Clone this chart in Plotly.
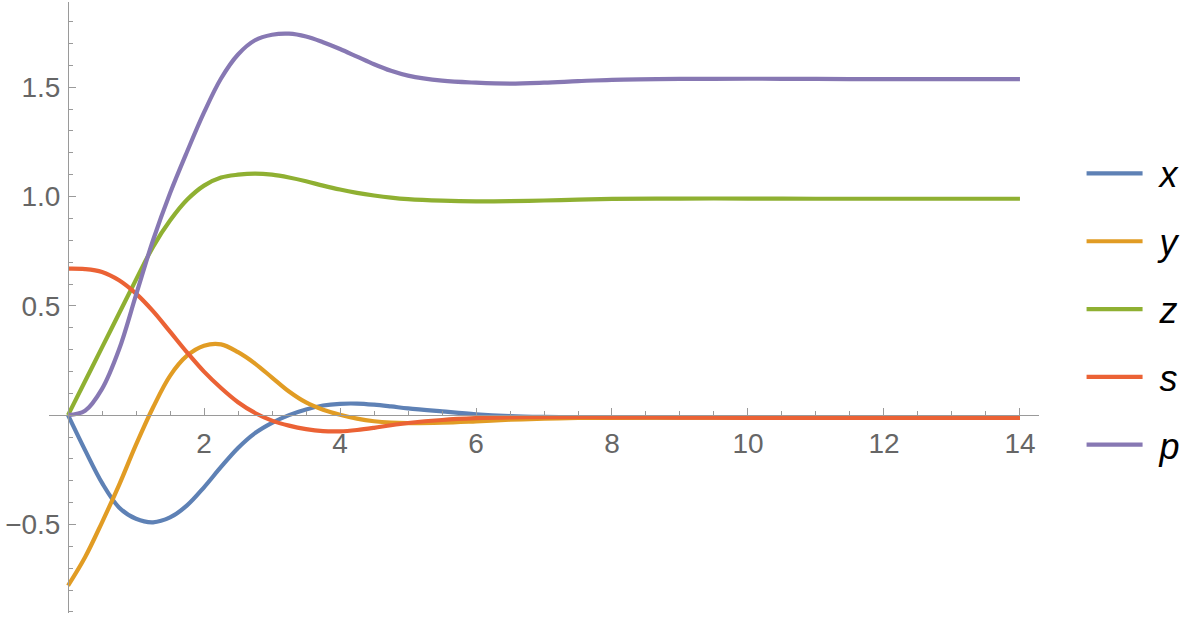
import plotly.graph_objects as go

# sample times
t = [0, 0.25, 0.5, 0.75, 1, 1.25, 1.5, 1.75, 2, 2.25, 2.5, 2.75, 3, 3.25, 3.5, 3.75,
     4, 4.25, 4.5, 4.75, 5, 5.5, 6, 6.5, 7, 7.5, 8, 9, 10, 11, 12, 13, 14]

x_vals = [0, -0.16, -0.31, -0.422, -0.474, -0.49, -0.468, -0.413, -0.33, -0.237, -0.15, -0.082,
          -0.035, 0.0, 0.026, 0.044, 0.052, 0.053, 0.048, 0.04, 0.031, 0.017, 0.004, -0.004,
          -0.008, -0.01, -0.01, -0.01, -0.011, -0.012, -0.012, -0.012, -0.012]
y_vals = [-0.78, -0.65, -0.49, -0.32, -0.135, 0.035, 0.18, 0.272, 0.318, 0.324, 0.288, 0.236,
          0.172, 0.108, 0.058, 0.025, 0.002, -0.016, -0.028, -0.034, -0.036, -0.034, -0.028,
          -0.021, -0.016, -0.013, -0.012, -0.011, -0.011, -0.012, -0.012, -0.012, -0.012]
z_vals = [0, 0.155, 0.31, 0.465, 0.62, 0.77, 0.89, 0.985, 1.05, 1.087, 1.10, 1.105, 1.10,
          1.087, 1.07, 1.05, 1.032, 1.017, 1.005, 0.995, 0.988, 0.981, 0.978, 0.979, 0.982,
          0.986, 0.989, 0.991, 0.991, 0.99, 0.99, 0.99, 0.99]
s_vals = [0.67, 0.668, 0.655, 0.617, 0.556, 0.476, 0.382, 0.287, 0.199, 0.124, 0.059, 0.01,
          -0.025, -0.048, -0.064, -0.073, -0.074, -0.068, -0.058, -0.046, -0.036, -0.022,
          -0.014, -0.01, -0.009, -0.009, -0.01, -0.011, -0.012, -0.012, -0.012, -0.012, -0.012]
p_vals = [0, 0.02, 0.12, 0.30, 0.55, 0.80, 1.015, 1.205, 1.385, 1.54, 1.65, 1.715, 1.74,
          1.745, 1.732, 1.706, 1.675, 1.64, 1.605, 1.575, 1.553, 1.53, 1.521, 1.517, 1.521,
          1.528, 1.534, 1.538, 1.539, 1.538, 1.537, 1.537, 1.537]

names = ["x", "y", "z", "s", "p"]
series = [x_vals, y_vals, z_vals, s_vals, p_vals]
colors = ["#5E81B5", "#E19C24", "#8FB032", "#EB6235", "#8778B3"]

x_ticks = [2, 4, 6, 8, 10, 12, 14]
x_ticktext = ["2", "4", "6", "8", "10", "12", "14"]
y_ticks = [-0.5, 0.5, 1.0, 1.5]
y_ticktext = ["\u22120.5", "0.5", "1.0", "1.5"]

x_range = [-0.28, 14.28]
y_range = [-0.905, 1.89]

fig = go.Figure()
for n, v, c in zip(names, series, colors):
    fig.add_trace(go.Scatter(
        x=t, y=v, name="\u2004" + n, mode="lines",
        line=dict(color=c, width=4.2, shape="spline", smoothing=1.0),
        legendgroup=n,
    ))

axis_color = "#9a9a9a"
tick_font = dict(family="Liberation Sans, Arial, sans-serif", size=28, color="#666666")

fig.update_layout(
    width=1200, height=622,
    margin=dict(l=49, r=161, t=2, b=9, autoexpand=False),
    plot_bgcolor="white", paper_bgcolor="white",
    showlegend=True,
    legend=dict(
        x=1.043, y=0.4975, xanchor="left", yanchor="middle",
        font=dict(family="Liberation Sans, Arial, sans-serif", size=36, color="black", style="italic"),
        itemwidth=56, traceorder="grouped", tracegroupgap=18,
        bgcolor="rgba(0,0,0,0)",
    ),
    xaxis=dict(
        range=x_range, anchor="free", position=(0 - y_range[0]) / (y_range[1] - y_range[0]),
        showgrid=False, zeroline=False, showline=True, linecolor=axis_color, linewidth=1,
        tickmode="array", tickvals=x_ticks, ticktext=x_ticktext,
        ticks="inside", ticklen=7, tickcolor=axis_color, tickwidth=1,
        minor=dict(dtick=0.5, tick0=0, ticks="inside", ticklen=4, tickcolor=axis_color, tickwidth=1),
        tickfont=tick_font, ticklabelstandoff=3,
    ),
    yaxis=dict(
        range=y_range, anchor="free", position=(0 - x_range[0]) / (x_range[1] - x_range[0]),
        showgrid=False, zeroline=False, showline=True, linecolor=axis_color, linewidth=1,
        tickmode="array", tickvals=y_ticks, ticktext=y_ticktext,
        ticks="inside", ticklen=7, tickcolor=axis_color, tickwidth=1,
        minor=dict(dtick=0.1, tick0=0, ticks="inside", ticklen=4, tickcolor=axis_color, tickwidth=1),
        tickfont=tick_font, ticklabelstandoff=2,
    ),
)

fig.write_html("out.html", config={"displayModeBar": False},
               post_script="document.body.style.margin='0';")
